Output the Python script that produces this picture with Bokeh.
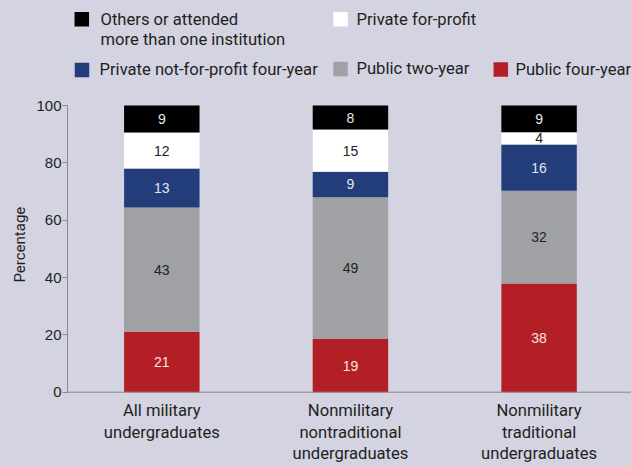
import numpy as np
from bokeh.plotting import figure
from bokeh.models import ColumnDataSource, Range1d, FixedTicker, Span, Title, GlobalInlineStyleSheet
from bokeh.core.properties import value
from bokeh.embed import file_html
from bokeh.resources import INLINE

# ---------------- data ----------------
categories = ["All military\nundergraduates",
              "Nonmilitary\nnontraditional\nundergraduates",
              "Nonmilitary\ntraditional\nundergraduates"]

series_names = ["Public four-year", "Public two-year",
                "Private not-for-profit four-year", "Private for-profit",
                "Others or attended\nmore than one institution"]

# segment heights (bottom -> top)
public_four = [21.1, 18.6, 37.9]
public_two = [43.3, 49.4, 32.4]
private_nfp = [13.6, 8.9, 16.1]
private_fp = [12.6, 14.7, 4.3]
others = [9.4, 8.4, 9.3]

# printed labels
public_four_lbl = [21, 19, 38]
public_two_lbl = [43, 49, 32]
private_nfp_lbl = [13, 9, 16]
private_fp_lbl = [12, 15, 4]
others_lbl = [9, 8, 9]

y_ticks = [0, 20, 40, 60, 80, 100]
y_title = "Percentage"

series = [public_four, public_two, private_nfp, private_fp, others]
series_lbls = [public_four_lbl, public_two_lbl, private_nfp_lbl, private_fp_lbl, others_lbl]

# ---------------- style ----------------
BG = "#d3d3e2"
COND = "Roboto"
REG = "Liberation Sans"
TXT = "#231f20"
AXIS = "#8a8a8a"
colors = ["#b31f25", "#a0a1a4", "#233d7b", "#ffffff", "#000000"]
label_colors = ["#f6e6e6", "#222222", "#e2e5ef", "#222222", "#e8e8e8"]

# ---------------- geometry (page pixels; figure sits at page origin) ----------------
W, H = 631, 466
LEFT = 67                      # frame starts at page x 67
X_LO, X_HI = -0.5, 2.49
PXU = (W - LEFT) / (X_HI - X_LO)
Y0_PAGE, Y100_PAGE = 391.7, 105.0
PYU = (Y0_PAGE - Y100_PAGE) / 100.0
Y_HI = Y0_PAGE / PYU
Y_LO = -(H - Y0_PAGE) / PYU


def dx(px):
    return X_LO + (px - LEFT) / PXU


def dy(py):
    return (Y0_PAGE - py) / PYU


p = figure(width=W, height=H, x_range=Range1d(X_LO, X_HI), y_range=Range1d(Y_LO, Y_HI),
           output_backend="svg", toolbar_location=None, x_axis_location=None,
           min_border_top=0, min_border_left=LEFT, min_border_right=0, min_border_bottom=0,
           background_fill_color=BG, border_fill_color=BG, outline_line_color=None,
           stylesheets=[GlobalInlineStyleSheet(css="body{background:%s;}" % BG)])
p.grid.visible = False

# ---------------- stacked bars ----------------
x = np.arange(len(categories))
bottom = np.zeros(len(categories))
for vals, lbls, col, tcol in zip(series, series_lbls, colors, label_colors):
    top = bottom + np.array(vals, dtype=float)
    src = ColumnDataSource(dict(x=x, bottom=bottom, top=top, mid=(bottom + top) / 2,
                                lbl=[str(v) for v in lbls]))
    p.vbar(x="x", bottom="bottom", top="top", width=0.4, source=src,
           fill_color=col, line_color=None)
    p.text(x="x", y="mid", text="lbl", source=src, text_align="center",
           text_baseline="middle", text_font=value(REG),
           text_font_size="14px", text_color=tcol)
    bottom = top

# x axis line
p.add_layout(Span(location=0, dimension="width", line_color=AXIS, line_width=1))

# category labels (one text per line, vertically centred on the capitals)
cx, cy, ct = [], [], []
line_centres = [410.3, 431.8, 453.3]
for i, cat in enumerate(categories):
    for k, line in enumerate(cat.split("\n")):
        cx.append(i); cy.append(dy(line_centres[k])); ct.append(line)
p.text(x=cx, y=cy, text=ct, text_align="center", text_baseline="middle",
       text_font=value(COND), text_font_size="16.6px", text_color=TXT)

# ---------------- y axis ----------------
ya = p.yaxis[0]
ya.bounds = (0, 100)
ya.ticker = FixedTicker(ticks=y_ticks)
ya.major_tick_out = 5
ya.major_tick_in = 0
ya.major_tick_line_color = AXIS
ya.minor_tick_line_color = None
ya.axis_line_color = AXIS
ya.major_label_standoff = 1
ya.major_label_text_font = REG
ya.major_label_text_font_size = "15px"
ya.major_label_text_color = TXT

# axis title in the left panel; text starts 184px above the bottom edge
p.add_layout(Title(text=y_title, align="left", offset=184,
                   text_font=COND, text_font_size="15px", text_font_style="normal",
                   text_color=TXT), "left")

# ---------------- legend ----------------
# slots: (square centre x, square centre y, text x, first line centre y) in page pixels
slots = {
    "Others or attended\nmore than one institution": (81.3, 18.8, 100, 18.8),
    "Private for-profit": (340, 18.8, 356, 18.8),
    "Private not-for-profit four-year": (81.5, 69.5, 99, 68.8),
    "Public two-year": (340, 68.5, 356, 68.0),
    "Public four-year": (500.3, 69, 515, 68.5),
}
sq_x, sq_y, sq_c, tx, ty, tt = [], [], [], [], [], []
for name, col in zip(series_names, colors):
    sx, sy, lx, ly = slots[name]
    sq_x.append(dx(sx)); sq_y.append(dy(sy)); sq_c.append(col)
    for k, line in enumerate(name.split("\n")):
        tx.append(dx(lx)); ty.append(dy(ly + 20.2 * k)); tt.append(line)

p.rect(x=sq_x, y=sq_y, width=14.5, height=14.5, width_units="screen", height_units="screen",
       fill_color=sq_c, line_color=None)
p.text(x=tx, y=ty, text=tt, text_align="left", text_baseline="middle",
       text_font=value(COND), text_font_size="16.6px", text_color=TXT)

open("out.html", "w").write(file_html(p, INLINE))
